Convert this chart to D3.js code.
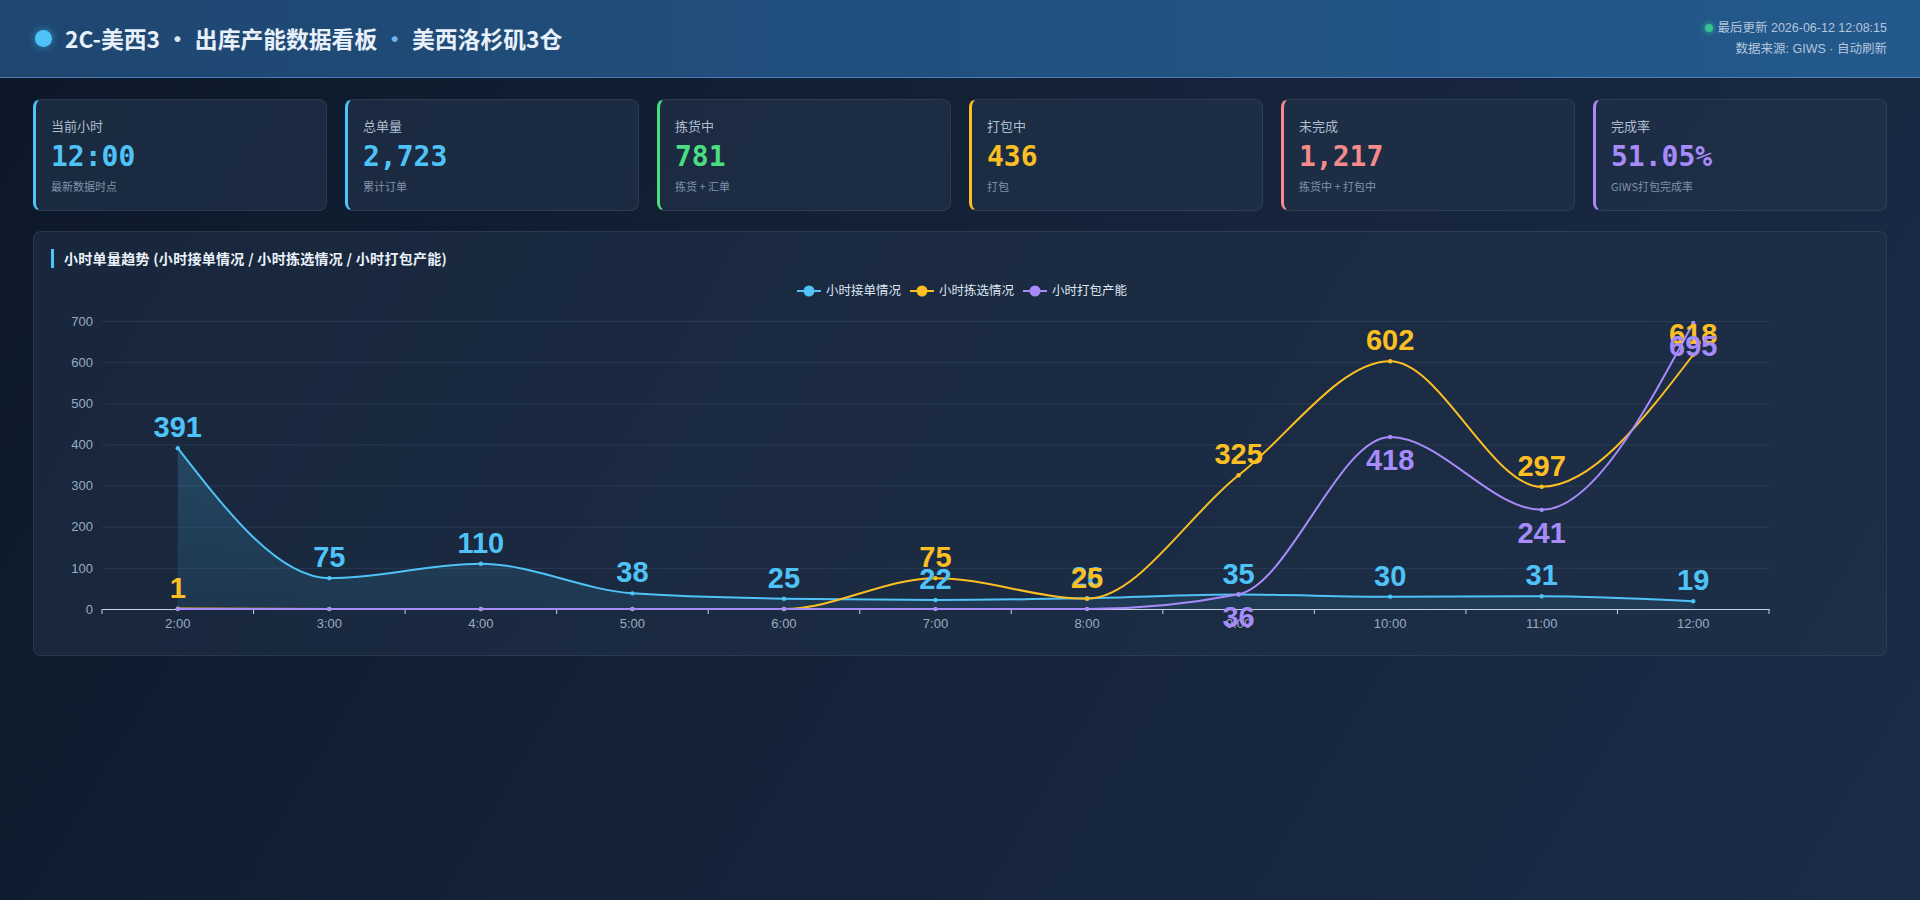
<!DOCTYPE html>
<html lang="zh-CN">
<head>
<meta charset="utf-8">
<title>2C-美西3 出库产能数据看板</title>
<script src="https://cdn.jsdelivr.net/npm/d3@7/dist/d3.min.js"></script>
<style>
  * { box-sizing: border-box; margin: 0; padding: 0; }
  body {
    width: 1920px; height: 900px; overflow: hidden;
    background: linear-gradient(120deg, #0c1828 0%, #142238 45%, #1a2c48 100%);
    font-family: "Noto Sans CJK SC", "Noto Sans", sans-serif;
    color: #e6eef8;
  }
  .header {
    height: 78px; padding: 0 33px;
    display: flex; align-items: center; justify-content: space-between;
    background: linear-gradient(90deg, #1e4670 0%, #21507f 50%, #23598c 100%);
    border-bottom: 1px solid rgba(110, 165, 225, 0.55);
  }
  .title { display: flex; align-items: center; font-size: 22.8px; font-weight: 700; letter-spacing: 0; color: #e8f0fa; }
  .title .dot { width: 17px; height: 17px; border-radius: 50%; background: #4fc3f7; margin: 0 13px 0 2px; box-shadow: 0 0 8px rgba(79,195,247,0.6); }
  .title .sep { margin: 0 6px; color: #dbe6f3; }
  .title .sep.blue { color: #6fb6ee; }
  .meta { text-align: right; font-size: 12.5px; color: #b3c6dc; line-height: 21px; font-family: "Liberation Sans", "Noto Sans CJK SC", sans-serif; }
  .meta .live { display: inline-block; width: 8px; height: 8px; border-radius: 50%; background: #34c38f; margin-right: 4px; box-shadow: 0 0 6px #34c38f; vertical-align: 0px; }
  .cards { display: flex; gap: 18px; padding: 21px 33px 0 33px; }
  .card {
    flex: 1; height: 112px; border-radius: 8px;
    background: rgba(32, 48, 72, 0.72);
    border: 1px solid rgba(255,255,255,0.08);
    border-left: 3px solid;
    padding: 17px 0 0 15px;
  }
  .card .lbl { font-size: 13px; line-height: 17px; color: #aebdd0; }
  .card .val { font-family: "DejaVu Sans Mono", monospace; font-weight: 700; font-size: 28px; line-height: 34px; margin-top: 6px; }
  .card .note { font-size: 11px; line-height: 14px; color: #8192aa; margin-top: 5px; }
  .panel {
    position: relative; margin: 20px 33px 0 33px; height: 425px;
    border-radius: 8px; background: rgba(32, 48, 72, 0.6);
    border: 1px solid rgba(255,255,255,0.08);
  }
  .panel .ptitle {
    position: absolute; left: 17px; top: 17px; height: 19px; line-height: 19px;
    border-left: 3px solid #4fc3f7; padding-left: 10px;
    font-size: 14px; font-weight: 700; color: #eaf1f9; letter-spacing: 0.3px;
  }
  .panel svg { position: absolute; left: 0; top: 0; }
</style>
</head>
<body>
<div class="header">
  <div class="title"><span class="dot"></span>2C-美西3<span class="sep">·</span>出库产能数据看板<span class="sep blue">·</span>美西洛杉矶3仓</div>
  <div class="meta">
    <div><span class="live"></span>最后更新 2026-06-12 12:08:15</div>
    <div>数据来源: GIWS · 自动刷新</div>
  </div>
</div>
<div class="cards" id="cards"></div>
<div class="panel" id="panel">
  <div class="ptitle">小时单量趋势 (小时接单情况 / 小时拣选情况 / 小时打包产能)</div>
</div>

<script>
// KPI cards
const kpiLabels = ['当前小时', '总单量', '拣货中', '打包中', '未完成', '完成率'];
const kpiValues = ['12:00', '2,723', '781', '436', '1,217', '51.05%'];
const kpiNotes = ['最新数据时点', '累计订单', '拣货 + 汇单', '打包', '拣货中 + 打包中', 'GIWS打包完成率'];

// hourly series
const hours = ['2:00', '3:00', '4:00', '5:00', '6:00', '7:00', '8:00', '9:00', '10:00', '11:00', '12:00'];
const seriesNames = ['小时接单情况', '小时拣选情况', '小时打包产能'];
const receivedOrders = [391, 75, 110, 38, 25, 22, 26, 35, 30, 31, 19];
const pickedOrders = [1, 0, 0, 0, 0, 75, 25, 325, 602, 297, 618];
const packedOrders = [0, 0, 0, 0, 0, 0, 0, 36, 418, 241, 695];
const yTicks = [0, 100, 200, 300, 400, 500, 600, 700];

const kpiColors = ['#4fc3f7', '#4fc3f7', '#4ade80', '#fbbf24', '#f58b8b', '#a78bfa'];
const lineColors = ['#4fc3f7', '#fbbf24', '#a78bfa'];

function renderCards() {
    let cards = d3.select('#cards').selectAll('.card')
        .data(kpiLabels)
        .join('div')
        .attr('class', 'card')
        .style('border-left-color', (d, i) => kpiColors[i]);
    cards.append('div').attr('class', 'lbl').text(d => d);
    cards.append('div').attr('class', 'val')
        .style('color', (d, i) => kpiColors[i])
        .text((d, i) => kpiValues[i]);
    cards.append('div').attr('class', 'note').text((d, i) => kpiNotes[i]);
}

function renderChart() {
    const panel = document.getElementById('panel');
    const width = panel.clientWidth;
    const height = panel.clientHeight;
    const margin = { top: 89, right: 117, bottom: 46, left: 68 };
    const numFont = '"Liberation Sans", Arial, sans-serif';

    const svg = d3.select('#panel').append('svg')
        .attr('width', width)
        .attr('height', height);

    const x = d3.scaleBand()
        .domain(hours)
        .range([margin.left, width - margin.right]);
    const cx = d => x(d) + x.bandwidth() / 2;
    const y = d3.scaleLinear()
        .domain([0, 700])
        .range([height - margin.bottom, margin.top]);

    // gradient for the area under the first series
    const grad = svg.append('defs').append('linearGradient')
        .attr('id', 'areaFill').attr('x1', 0).attr('y1', 0).attr('x2', 0).attr('y2', 1);
    grad.append('stop').attr('offset', '0%').attr('stop-color', '#4fc3f7').attr('stop-opacity', 0.2);
    grad.append('stop').attr('offset', '100%').attr('stop-color', '#4fc3f7').attr('stop-opacity', 0.09);

    // grid + y axis
    const yAxis = svg.append('g')
        .attr('transform', `translate(${margin.left},0)`)
        .call(d3.axisLeft(y).tickValues(yTicks).tickSize(-(width - margin.left - margin.right)).tickPadding(9));
    yAxis.select('.domain').remove();
    yAxis.selectAll('.tick line').attr('stroke', 'rgba(148,170,200,0.13)');
    yAxis.selectAll('.tick text')
        .attr('fill', '#9aabc0').attr('font-size', 13).attr('font-family', numFont);
    yAxis.selectAll('.tick').filter(d => d === 0).select('line').remove();

    // x axis, ticks sit between the categories
    const xAxis = svg.append('g')
        .attr('transform', `translate(0,${y(0)})`)
        .call(d3.axisBottom(x).tickSize(0).tickPadding(10));
    xAxis.select('.domain').attr('stroke', '#c9d3df');
    xAxis.selectAll('.tick text')
        .attr('fill', '#9aabc0').attr('font-size', 13).attr('font-family', numFont);
    const bounds = hours.map(h => x(h)).concat([x(hours[hours.length - 1]) + x.bandwidth()]);
    xAxis.selectAll('.bound').data(bounds).join('line')
        .attr('class', 'bound')
        .attr('x1', d => d).attr('x2', d => d)
        .attr('y1', 0).attr('y2', 5)
        .attr('stroke', '#c9d3df');

    const allSeries = [receivedOrders, pickedOrders, packedOrders];

    // area
    const area = d3.area()
        .x((d, i) => cx(hours[i]))
        .y0(y(0))
        .y1(d => y(d))
        .curve(d3.curveMonotoneX);
    svg.append('path')
        .datum(receivedOrders)
        .attr('d', area)
        .attr('fill', 'url(#areaFill)');

    const line = d3.line()
        .x((d, i) => cx(hours[i]))
        .y(d => y(d))
        .curve(d3.curveMonotoneX);

    allSeries.forEach((vals, s) => {
        svg.append('path')
            .datum(vals)
            .attr('d', line)
            .attr('fill', 'none')
            .attr('stroke', lineColors[s])
            .attr('stroke-width', 2);
        svg.append('g').selectAll('circle')
            .data(vals)
            .join('circle')
            .attr('cx', (d, i) => cx(hours[i]))
            .attr('cy', d => y(d))
            .attr('r', 2.2)
            .attr('fill', lineColors[s]);
    });

    // value labels: first two series above, packing below; zeros hidden
    allSeries.forEach((vals, s) => {
        const below = s === 2;
        svg.append('g').selectAll('text')
            .data(vals)
            .join('text')
            .attr('x', (d, i) => cx(hours[i]))
            .attr('y', d => below ? y(d) + 33 : y(d) - 11)
            .attr('text-anchor', 'middle')
            .attr('font-family', numFont)
            .attr('font-size', 29)
            .attr('font-weight', 600)
            .attr('fill', lineColors[s])
            .text(d => d === 0 ? '' : d);
    });

    // legend
    const legend = svg.append('g').attr('transform', 'translate(0,59)');
    const itemW = [113, 113, 100];
    let lx = 763;
    seriesNames.forEach((name, i) => {
        const g = legend.append('g').attr('transform', `translate(${lx},0)`);
        g.append('line').attr('x1', 0).attr('x2', 24).attr('y1', 0).attr('y2', 0)
            .attr('stroke', lineColors[i]).attr('stroke-width', 2);
        g.append('circle').attr('cx', 12).attr('cy', 0).attr('r', 5.5).attr('fill', lineColors[i]);
        g.append('text').attr('x', 29).attr('y', 0).attr('dy', '0.35em')
            .attr('font-size', 12.5).attr('fill', '#dfe7f1')
            .text(name);
        lx += itemW[i];
    });
}

renderCards();
renderChart();
</script>
</body>
</html>
